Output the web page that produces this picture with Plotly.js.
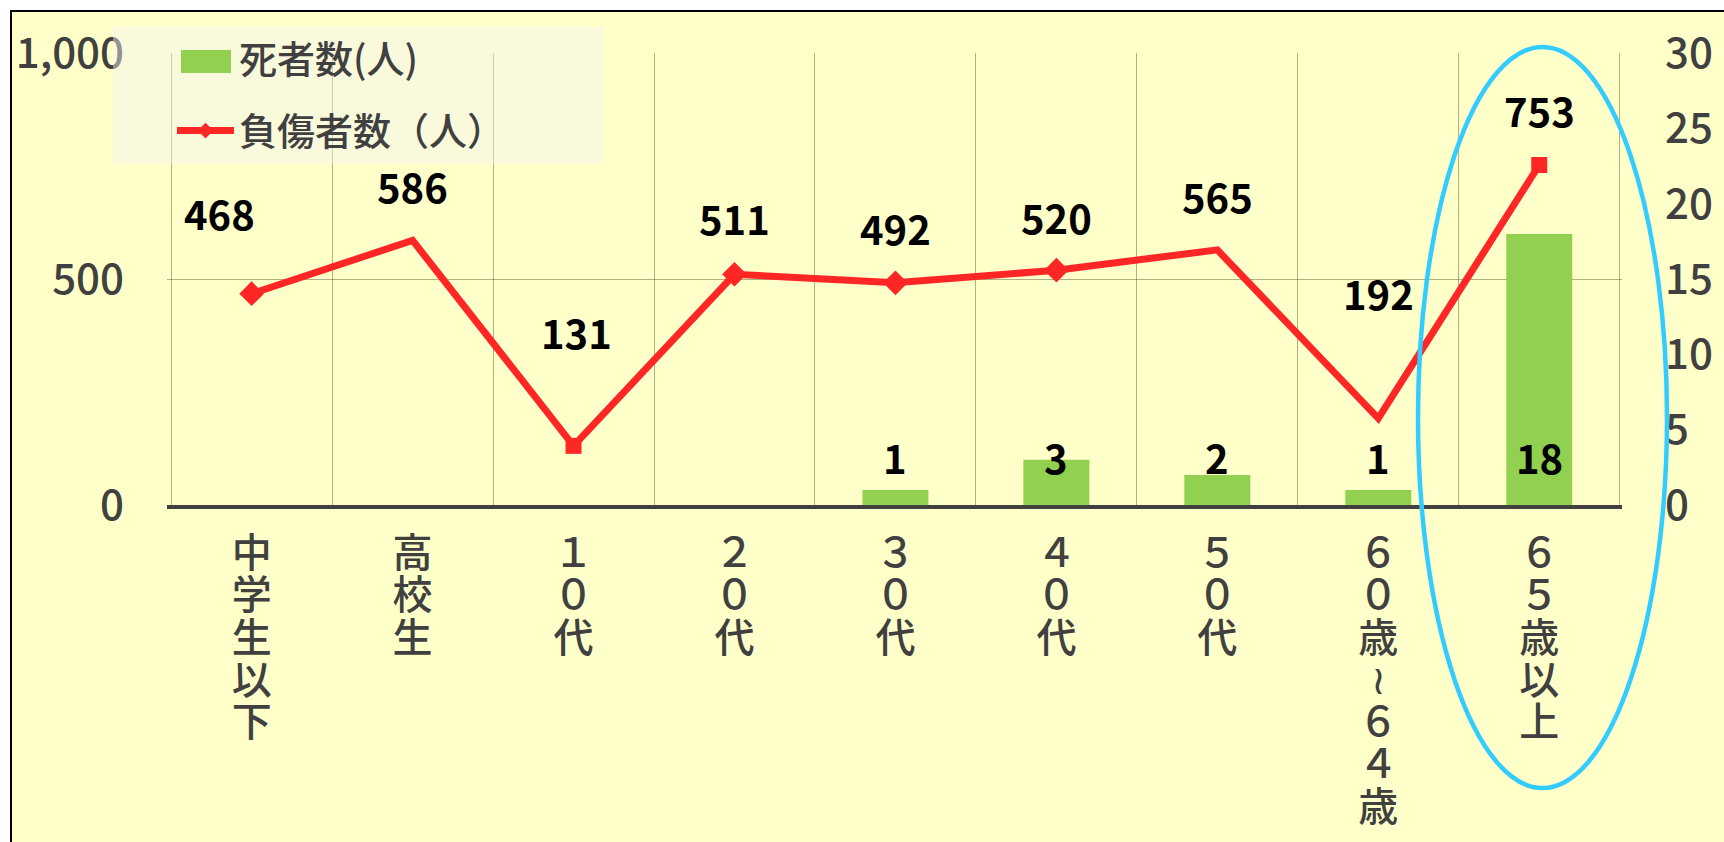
<!DOCTYPE html>
<html>
<head>
<meta charset="utf-8">
<script src="https://cdn.plot.ly/plotly-3.0.1.min.js"></script>
<style>
  html, body { margin: 0; padding: 0; background: #ffffff; }
  #chart { width: 1724px; height: 842px; }
</style>
</head>
<body>
<div id="chart"></div>
<script>
// ---- data ----
const categories = ['中学生以下', '高校生', '１０代', '２０代', '３０代', '４０代', '５０代', '６０歳～６４歳', '６５歳以上'];
const deaths = [0, 0, 0, 0, 1, 3, 2, 1, 18];
const injuries = [468, 586, 131, 511, 492, 520, 565, 192, 753];
const deathsName = '死者数(人)';
const injuriesName = '負傷者数（人）';

// ---- styles ----
const FONT = '"Noto Sans CJK JP", "Noto Sans", sans-serif';
const GRID = 'rgba(80,80,40,0.45)';
const RED = '#FF2626';
const GREEN = '#92D050';
const labelDx = [-32, 0, 3, 0, 0, 0, 0, 0, 0];
const labelDy = [81, 54, 114, 56, 55, 53, 54, 125, 55];
const markerSymbols = ['diamond', 'diamond', 'square', 'diamond', 'diamond', 'diamond', 'diamond', 'diamond', 'square'];
const markerSizes = [19, 0, 16, 19, 19, 19, 0, 0, 16];

function verticalLabel(s) {
  return s.split('').map(function (c) {
    const ch = (c === '～') ? '≀' : c;
    return '<span style="font-size:40px">' + ch + '</span>';
  }).join('<br>');
}

// bars
const barTrace = {
  type: 'bar',
  name: deathsName,
  showlegend: false,
  x: categories,
  y: deaths,
  yaxis: 'y2',
  width: 0.41,
  marker: { color: GREEN },
  hoverinfo: 'skip'
};

// legend entry for the bars (its wide swatch is drawn as a shape below)
const barKey = {
  type: 'scatter',
  mode: 'lines',
  name: deathsName,
  legendgroup: 'a',
  x: [null],
  y: [null],
  yaxis: 'y2',
  line: { color: 'rgba(0,0,0,0)', width: 0 },
  hoverinfo: 'skip'
};

const lineTrace = {
  type: 'scatter',
  mode: 'lines+markers',
  name: injuriesName,
  legendgroup: 'b',
  x: categories,
  y: injuries,
  yaxis: 'y',
  line: { color: RED, width: 7 },
  marker: { color: RED, symbol: markerSymbols, size: markerSizes, opacity: 1, line: { width: 0 } },
  hoverinfo: 'skip'
};

const annotations = [];
injuries.forEach(function (v, i) {
  annotations.push({
    x: categories[i], y: v, xref: 'x', yref: 'y',
    text: String(v), showarrow: false,
    xshift: labelDx[i], yshift: labelDy[i],
    font: { family: FONT, size: 40, color: '#000000', weight: 'bold' }
  });
});
deaths.forEach(function (v, i) {
  if (v > 0) {
    annotations.push({
      x: categories[i], y: 0, xref: 'x', yref: 'y2',
      text: String(v), showarrow: false,
      yshift: 48,
      font: { family: FONT, size: 40, color: '#000000', weight: 'bold' }
    });
  }
});

const PL = 167, PR = 1622, PT = 53, PB = 505;
const PW = PR - PL, PH = PB - PT;
function px(xp) { return (xp - PL) / PW; }
function py(yp) { return (PB - yp) / PH; }

const layout = {
  width: 1724,
  height: 842,
  margin: { l: PL, r: 1724 - PR, t: PT, b: 842 - PB, pad: 0 },
  paper_bgcolor: '#ffffff',
  plot_bgcolor: 'rgba(0,0,0,0)',
  font: { family: FONT, color: '#404040' },
  showlegend: true,
  legend: {
    x: px(172), y: py(27), xanchor: 'left', yanchor: 'top',
    bgcolor: 'rgba(0,0,0,0)',
    borderwidth: 0,
    font: { family: FONT, size: 38, color: '#404040', weight: 500 },
    tracegroupgap: 20,
    traceorder: 'grouped',
    itemwidth: 57
  },
  xaxis: {
    type: 'category',
    tickson: 'boundaries',
    showgrid: true,
    gridcolor: GRID,
    gridwidth: 1,
    showline: true,
    linecolor: '#404040',
    linewidth: 4,
    ticks: '',
    tickvals: categories,
    ticktext: categories.map(verticalLabel),
    tickangle: 0,
    tickfont: { family: FONT, size: 32.5, color: '#404040', weight: 500 },
    ticklabelstandoff: 19,
    fixedrange: true
  },
  yaxis: {
    range: [0, 1001],
    tickvals: [0, 500, 1000],
    tickformat: ',',
    showgrid: true,
    gridcolor: GRID,
    gridwidth: 1,
    zeroline: false,
    showline: false,
    ticks: '',
    ticklabelstandoff: 42,
    tickfont: { family: FONT, size: 42, color: '#404040', weight: 500 },
    fixedrange: true
  },
  yaxis2: {
    range: [0, 30.03],
    tickvals: [0, 5, 10, 15, 20, 25, 30],
    overlaying: 'y',
    side: 'right',
    showgrid: false,
    zeroline: false,
    showline: false,
    ticks: '',
    ticklabelstandoff: 42,
    tickfont: { family: FONT, size: 42, color: '#404040', weight: 500 },
    fixedrange: true
  },
  shapes: [
    {
      type: 'rect', xref: 'paper', yref: 'paper', layer: 'below',
      x0: px(11), x1: px(1740), y0: py(860), y1: py(11),
      line: { color: '#000000', width: 2 },
      fillcolor: '#FFFFC9'
    },
    {
      type: 'rect', xref: 'paper', yref: 'paper', layer: 'above',
      x0: px(113), x1: px(603), y0: py(164), y1: py(27),
      line: { width: 0 },
      fillcolor: 'rgba(242,242,242,0.46)'
    },
    {
      type: 'rect', xref: 'paper', yref: 'paper', layer: 'above',
      x0: px(181), x1: px(231), y0: py(73), y1: py(50),
      line: { width: 0 },
      fillcolor: GREEN
    },
    {
      type: 'circle', xref: 'paper', yref: 'paper', layer: 'above',
      x0: px(1418), x1: px(1667), y0: py(788), y1: py(47),
      line: { color: '#33CCFF', width: 4.5 }
    }
  ],
  annotations: annotations,
  bargap: 0.59
};

Plotly.newPlot('chart', [barTrace, barKey, lineTrace], layout, { displayModeBar: false, staticPlot: true });
</script>
</body>
</html>
